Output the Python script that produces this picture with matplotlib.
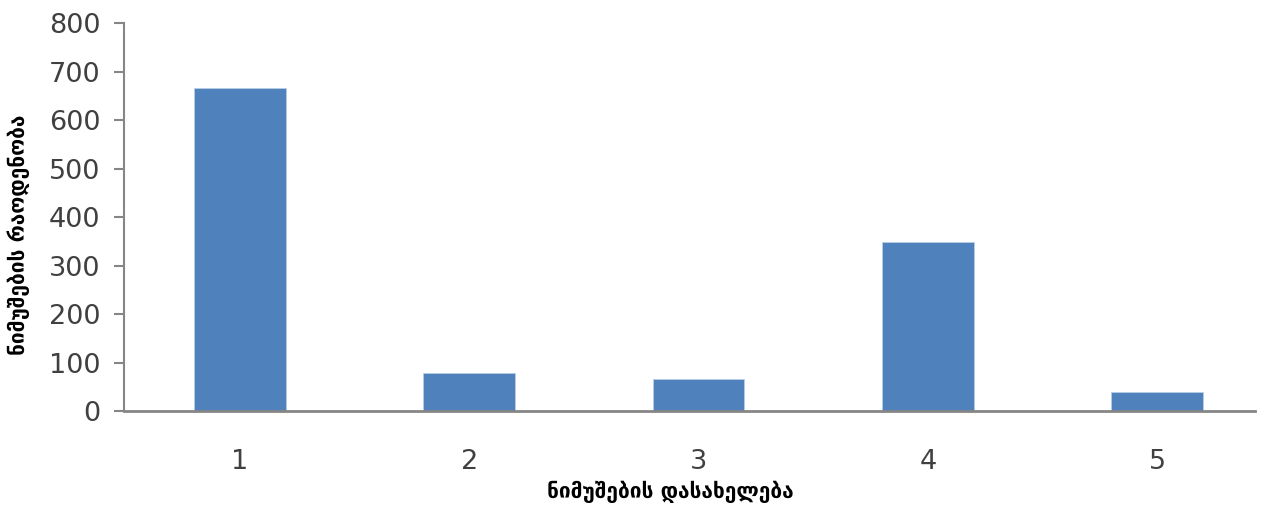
import matplotlib
matplotlib.use("Agg")
from matplotlib import pyplot as plt

samples = [1, 2, 3, 4, 5]
counts = [667, 78, 67, 348, 39]
yticks = [0, 100, 200, 300, 400, 500, 600, 700, 800]

plt.rcParams['font.family'] = ['DejaVu Sans']

fig = plt.figure(figsize=(12.69, 5.05), dpi=100)
ax = fig.add_axes([0.0977, 0.186, 0.891, 0.768])

ax.bar(samples, counts, width=0.4, color="#4F81BD", edgecolor="#B9CDE5", linewidth=0.6, zorder=2)

ax.set_xlim(0.494, 5.425)
ax.set_ylim(0, 800)
ax.set_yticks(yticks)
ax.set_xticks(samples)

for side in ["top", "right"]:
    ax.spines[side].set_visible(False)
ax.spines["left"].set_color("#868686")
ax.spines["left"].set_linewidth(1.5)
ax.spines["bottom"].set_color("#868686")
ax.spines["bottom"].set_linewidth(2)

ax.tick_params(axis="y", length=7, width=1.5, color="#868686", pad=10, labelsize=19.5, labelcolor="#404040")
ax.tick_params(axis="x", length=0, pad=27, labelsize=19.5, labelcolor="#404040")

ax.set_xlabel("ნიმუშების დასახელება", fontsize=15, fontweight="bold")
ax.set_ylabel("ნიმუშების რაოდენობა", fontsize=15, fontweight="bold")
ax.xaxis.set_label_coords(0.4836, -0.18)
ax.yaxis.set_label_coords(-0.083, 0.4536)

fig.savefig("out.png", dpi=100)
